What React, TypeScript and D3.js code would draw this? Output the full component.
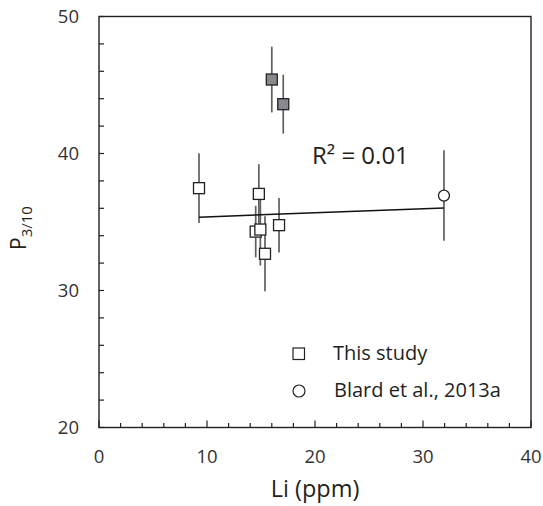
import React from "react";
import * as d3 from "d3";

const studyLi = [9.26, 14.8, 14.51, 14.94, 15.37, 16.67];
const studyP = [37.47, 37.05, 34.3, 34.45, 32.68, 34.77];
const studyErr = [2.55, 2.17, 1.88, 2.63, 2.74, 1.99];

const excludedLi = [16.0, 17.06];
const excludedP = [45.4, 43.6];
const excludedErr = [2.4, 2.15];

const blardLi = [31.94];
const blardP = [36.93];
const blardErr = [3.3];

const trendLi = [9.26, 31.94];
const trendP = [35.35, 36.03];

const xTickLabels = [0, 10, 20, 30, 40];
const yTickLabels = [20, 30, 40, 50];
const r2Label = "0.01";
const legendLabels = ["This study", "Blard et al., 2013a"];

const W = 543;
const H = 506;
const FONT = "'Open Sans', 'Noto Sans', sans-serif";

export default function App() {
  const x = d3.scaleLinear().domain([0, 40]).range([99, 531]);
  const y = d3.scaleLinear().domain([20, 50]).range([427.5, 16.5]);

  const xMinor = d3.range(0, 40.01, 2);
  const yMinor = d3.range(20, 50.01, 2);
  const line = d3
    .line<number>()
    .x((_, i) => x(trendLi[i]))
    .y((d) => y(d));

  const axisColor = "#231f20";
  const barColor = "#5f5f5f";
  const sq = 11;

  const studyPts = studyLi.map((v, i) => ({ li: v, p: studyP[i], e: studyErr[i] }));
  const exclPts = excludedLi.map((v, i) => ({ li: v, p: excludedP[i], e: excludedErr[i] }));
  const blardPts = blardLi.map((v, i) => ({ li: v, p: blardP[i], e: blardErr[i] }));
  const allPts = [...studyPts, ...exclPts, ...blardPts];

  return (
    <svg
      width={W}
      height={H}
      style={{ position: "absolute", left: 0, top: 0, background: "#fff" }}
      fontFamily={FONT}
    >
      <rect x={0} y={0} width={W} height={H} fill="#fff" />
      {/* frame */}
      <rect
        x={x(0)}
        y={y(50)}
        width={x(40) - x(0)}
        height={y(20) - y(50)}
        fill="none"
        stroke={axisColor}
        strokeWidth={1.4}
      />
      {/* x ticks */}
      {xMinor.map((t) => (
        <line
          key={"xt" + t}
          x1={x(t)}
          x2={x(t)}
          y1={y(20)}
          y2={y(20) - (t % 10 === 0 ? 7 : 4.5)}
          stroke={axisColor}
          strokeWidth={1.2}
        />
      ))}
      {/* y ticks */}
      {yMinor.map((t) => (
        <line
          key={"yt" + t}
          x1={x(0)}
          x2={x(0) + 5}
          y1={y(t)}
          y2={y(t)}
          stroke={axisColor}
          strokeWidth={1.2}
        />
      ))}
      {xTickLabels.map((t) => (
        <text
          key={"xl" + t}
          x={x(t)}
          y={463}
          textAnchor="middle"
          fontSize={18.5}
          fill="#333"
        >
          {t}
        </text>
      ))}
      {yTickLabels.map((t) => (
        <text
          key={"yl" + t}
          x={79}
          y={y(t) + 6.5}
          textAnchor="end"
          fontSize={18.5}
          fill="#333"
        >
          {t}
        </text>
      ))}
      {/* axis titles */}
      <text x={x(20)} y={497} textAnchor="middle" fontSize={23.5} fill="#231f20">
        Li (ppm)
      </text>
      <text
        transform="translate(26,250) rotate(-90)"
        textAnchor="start"
        fontSize={21}
        fill="#231f20"
      >
        P
        <tspan fontSize={15} dy={6}>
          3/10
        </tspan>
      </text>
      {/* error bars */}
      {allPts.map((d, i) => (
        <line
          key={"eb" + i}
          x1={x(d.li)}
          x2={x(d.li)}
          y1={y(d.p + d.e)}
          y2={y(d.p - d.e)}
          stroke={barColor}
          strokeWidth={1.7}
        />
      ))}
      {/* regression */}
      <path d={line(trendP) || ""} fill="none" stroke="#111" strokeWidth={1.5} />
      {/* points */}
      {exclPts.map((d, i) => (
        <rect
          key={"ex" + i}
          x={x(d.li) - sq / 2}
          y={y(d.p) - sq / 2}
          width={sq}
          height={sq}
          fill="#88888e"
          stroke="#222"
          strokeWidth={1.3}
        />
      ))}
      {studyPts.map((d, i) => (
        <rect
          key={"st" + i}
          x={x(d.li) - sq / 2}
          y={y(d.p) - sq / 2}
          width={sq}
          height={sq}
          fill="#fff"
          stroke="#222"
          strokeWidth={1.3}
        />
      ))}
      {blardPts.map((d, i) => (
        <circle
          key={"bl" + i}
          cx={x(d.li)}
          cy={y(d.p)}
          r={5.5}
          fill="#fff"
          stroke="#222"
          strokeWidth={1.3}
        />
      ))}
      {/* R2 */}
      <text x={312} y={164} fontSize={24} fill="#231f20">
        {"R\u00b2 = " + r2Label}
      </text>
      {/* legend */}
      <rect x={293} y={348} width={11.5} height={11.5} fill="#fff" stroke="#222" strokeWidth={1.2} />
      <text x={333} y={360} fontSize={20} fill="#231f20">
        {legendLabels[0]}
      </text>
      <circle cx={299} cy={391} r={6} fill="#fff" stroke="#222" strokeWidth={1.2} />
      <text x={334} y={397} fontSize={20} fill="#231f20">
        {legendLabels[1]}
      </text>
    </svg>
  );
}
